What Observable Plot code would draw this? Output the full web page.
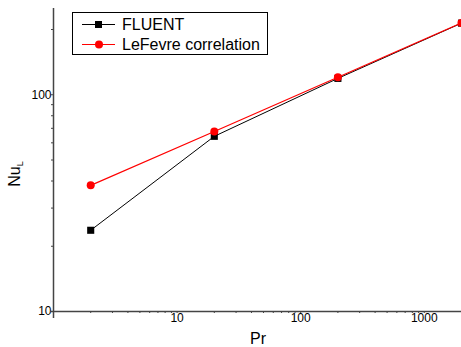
<!DOCTYPE html>
<html><head><meta charset="utf-8">
<script src="https://cdn.jsdelivr.net/npm/d3@7"></script>
<script src="https://cdn.jsdelivr.net/npm/@observablehq/plot@0.6"></script>
<style>
body{margin:0;background:#fff;font-family:"Liberation Sans",Arial,sans-serif}
#wrap{position:relative;width:461px;height:347px;overflow:hidden}
#legend{position:absolute;left:72px;top:12px;width:194px;height:41px;border:1px solid #000;background:#fff}
.row{position:absolute;left:0;height:19px;width:194px}
.row svg{position:absolute;left:9px;top:0}
.row span{position:absolute;left:49px;top:0;line-height:19px;font-size:16px;color:#000;white-space:nowrap}
</style></head><body><div id="wrap"></div>
<script>
const pr = [2, 20, 200, 2000];
const fluent = [23.7, 64.3, 119, 214];
const lefevre = [38.2, 67.7, 120.5, 214.5];
const seriesNames = ["FLUENT", "LeFevre correlation"];
const seriesColors = ["#000000", "#ff0000"];
const xMajor = [1, 10, 100, 1000];
const xMinor = [2,3,4,5,6,7,8,9,20,30,40,50,60,70,80,90,200,300,400,500,600,700,800,900];
const yMajor = [10, 100];
const yMinor = [20,30,40,50,60,70,80,90,200];
const xLabel = "Pr";

const fRows = pr.map((p, i) => ({x: p, y: fluent[i]}));
const lRows = pr.map((p, i) => ({x: p, y: lefevre[i]}));
const axisColor = "#444";

const plot = Plot.plot({
  width: 461, height: 347,
  marginLeft: 53, marginRight: 0, marginTop: 8, marginBottom: 36,
  x: {type: "log", domain: [1, 2000]},
  y: {type: "log", domain: [10, 250]},
  style: {fontFamily: "Liberation Sans, Arial, sans-serif", fontSize: "12px", color: "#000", background: "#fff"},
  marks: [
    Plot.axisX({ticks: xMinor, tickSize: 2, tickFormat: () => "", stroke: axisColor, label: null}),
    Plot.axisX({ticks: xMajor, tickSize: 2, tickPadding: 0, tickFormat: d => d === 1 ? "" : String(d), stroke: axisColor, label: null}),
    Plot.axisY({ticks: yMinor, tickSize: 2, tickFormat: () => "", stroke: axisColor, label: null}),
    Plot.axisY({ticks: yMajor, tickSize: 2, tickPadding: 0, tickFormat: d => String(d), stroke: axisColor, label: null}),
    Plot.ruleX([1], {stroke: axisColor, strokeWidth: 1.5, insetBottom: -7}),
    Plot.ruleY([10], {stroke: axisColor, strokeWidth: 1.5, insetLeft: -3}),
    Plot.line(fRows, {x: "x", y: "y", stroke: seriesColors[0], strokeWidth: 1}),
    Plot.dot(fRows, {x: "x", y: "y", symbol: "square", fill: seriesColors[0], stroke: "none", r: 4}),
    Plot.line(lRows, {x: "x", y: "y", stroke: seriesColors[1], strokeWidth: 1.2}),
    Plot.dot(lRows, {x: "x", y: "y", symbol: "circle", fill: seriesColors[1], stroke: "none", r: 4})
  ]
});

const wrap = document.getElementById("wrap");
wrap.appendChild(plot);
const svg = d3.select(plot);
svg.append("text")
  .attr("x", 258).attr("y", 344)
  .attr("text-anchor", "middle")
  .attr("font-size", 16).attr("fill", "#000")
  .text(xLabel);
const yl = svg.append("text")
  .attr("transform", "translate(20,174) rotate(-90)")
  .attr("text-anchor", "middle")
  .attr("font-size", 16).attr("fill", "#000");
yl.append("tspan").text("Nu");
yl.append("tspan").attr("font-size", 9).attr("dy", 3).text("L");

// legend
const legend = document.createElement("div");
legend.id = "legend";
const rowTops = [2, 21.5];
seriesNames.forEach((name, i) => {
  const row = document.createElement("div");
  row.className = "row";
  row.style.top = rowTops[i] + "px";
  const c = seriesColors[i];
  const marker = i === 0
    ? `<rect x="13" y="6" width="7" height="7" fill="${c}"/>`
    : `<circle cx="17" cy="9.5" r="4" fill="${c}"/>`;
  row.innerHTML = `<svg width="34" height="19"><line x1="0" x2="33" y1="9.5" y2="9.5" stroke="${c}" stroke-width="1"/>${marker}</svg><span>${name}</span>`;
  legend.appendChild(row);
});
wrap.appendChild(legend);
</script>
</body></html>
